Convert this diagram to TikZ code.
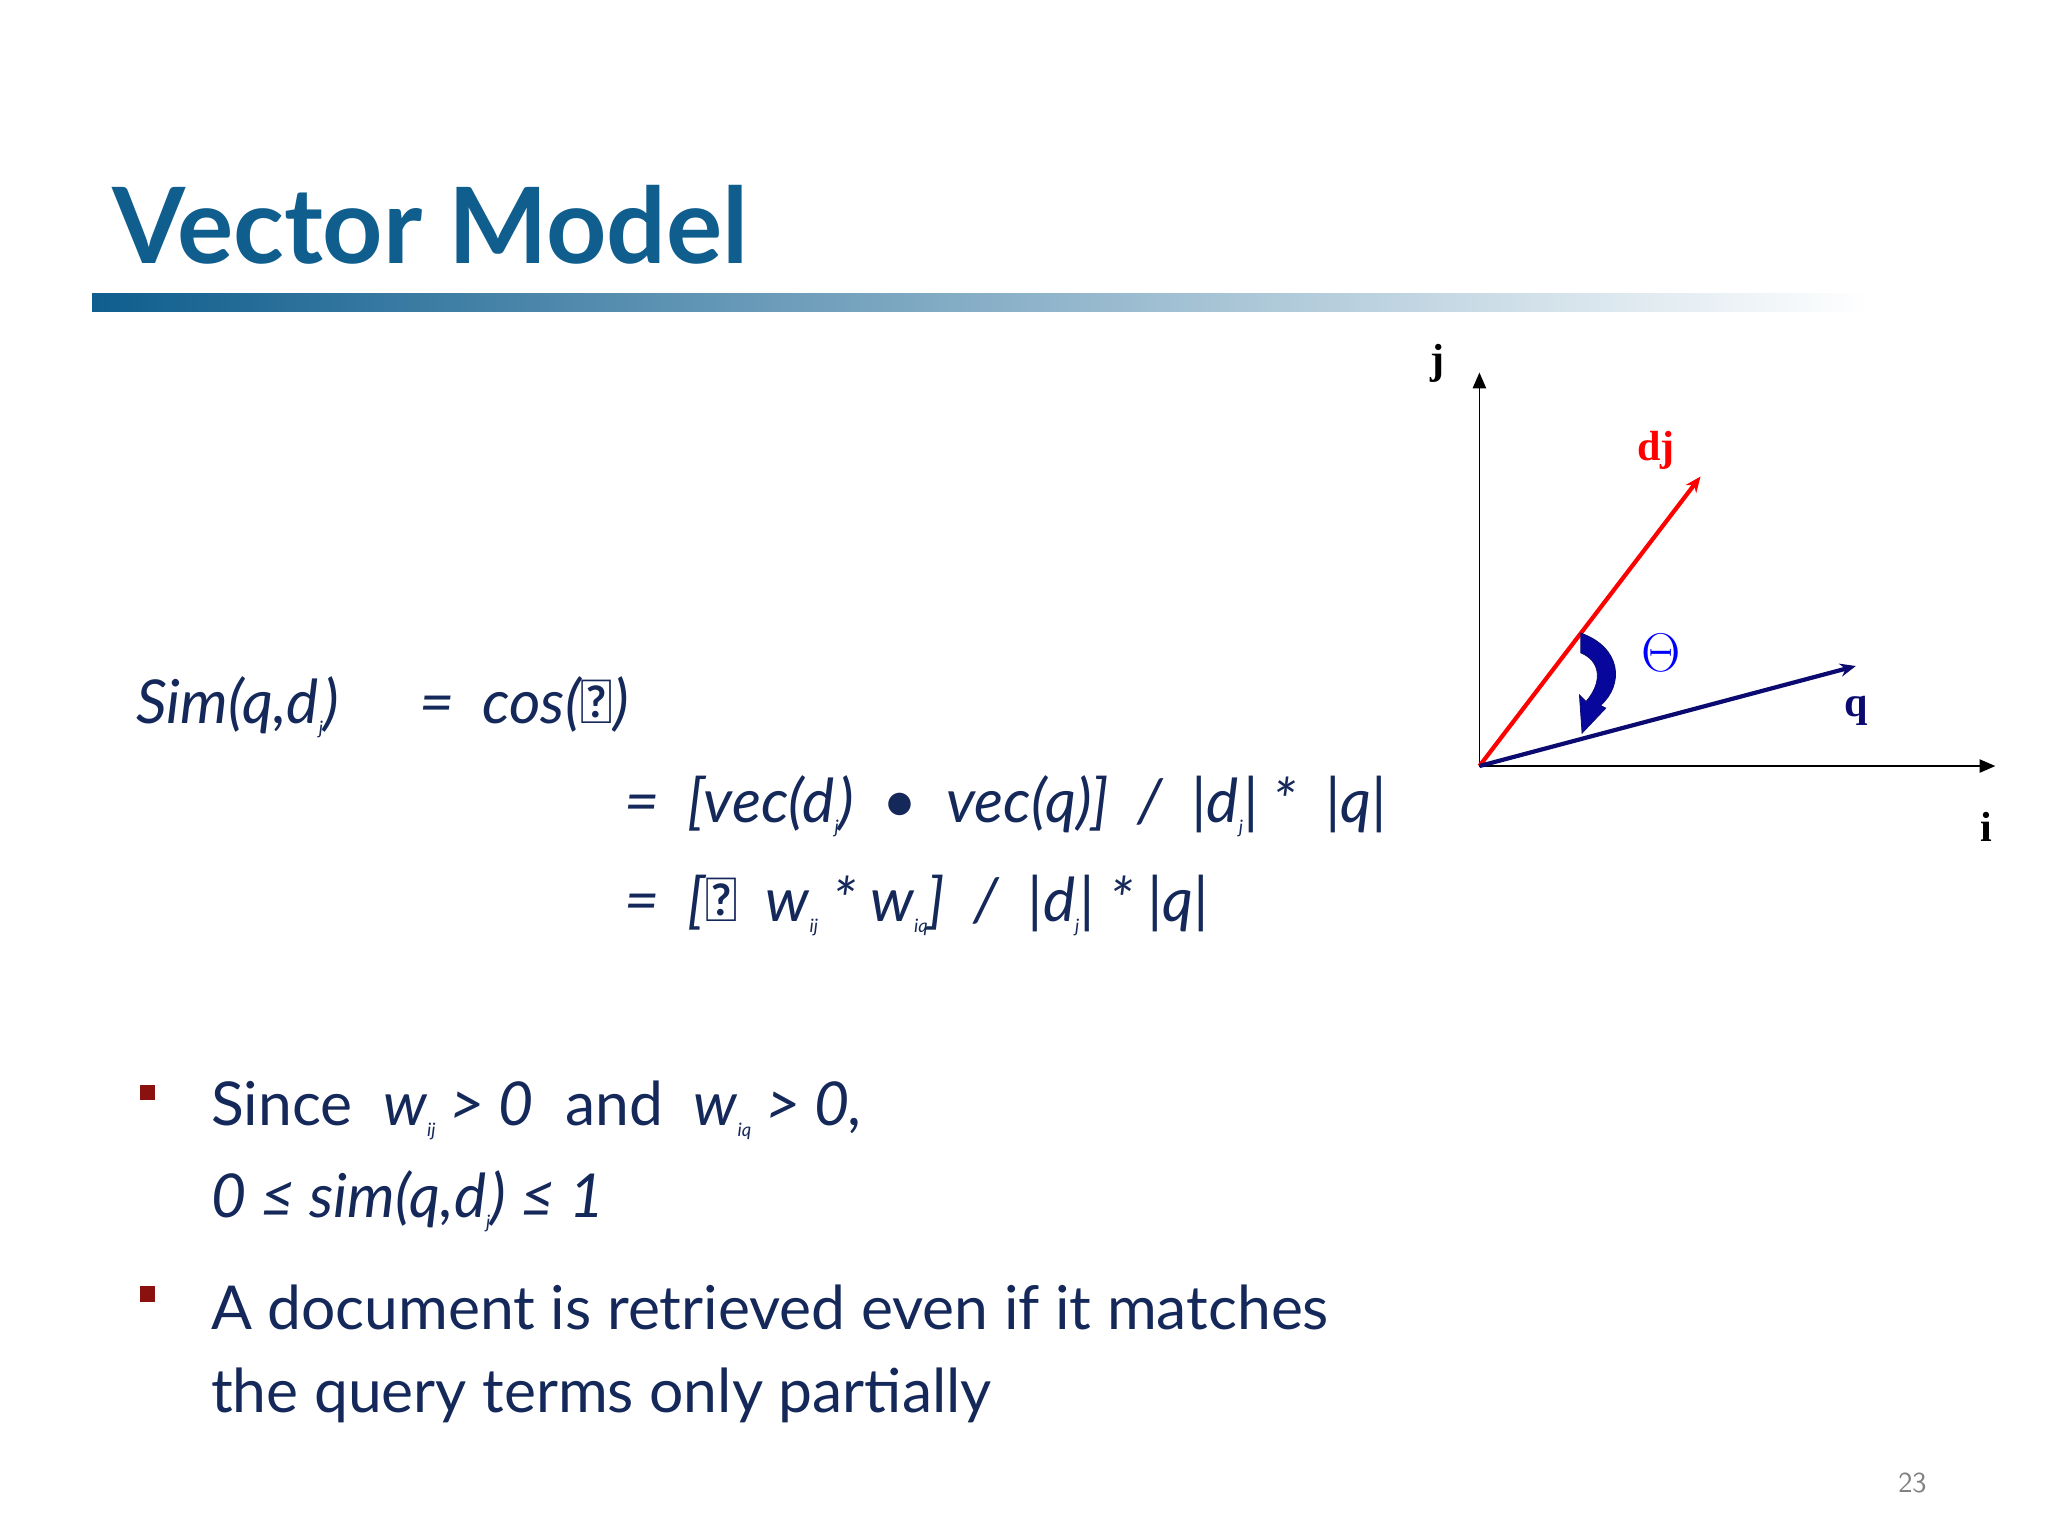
\documentclass[tikz,border=0pt]{standalone}
\usepackage{fontspec}
\setmainfont{Lato}
\newfontfamily\tnr{Liberation Serif}
\usetikzlibrary{arrows.meta}
\definecolor{ttl}{HTML}{0F5E8E}
\definecolor{txt}{HTML}{14285A}
\definecolor{navy}{HTML}{0A0A70}
\definecolor{bul}{HTML}{8B1010}
\newcommand{\sbs}[1]{\raisebox{-0.35ex}{\scriptsize #1}}
\tikzset{
  ftxt/.style={anchor=base west,inner sep=0pt,text=txt,font=\fontsize{23}{28}\selectfont\itshape},
  btxt/.style={anchor=base west,inner sep=0pt,text=txt,font=\fontsize{23}{28}\selectfont},
  lab/.style={font=\tnr\bfseries\fontsize{16}{18}\selectfont,inner sep=0pt},
  bsq/.style={fill=bul,minimum size=6pt,inner sep=0pt}
}
\begin{document}
\begin{tikzpicture}[x=0.5pt,y=-0.5pt]
\useasboundingbox (0,0) rectangle (1556,1167);
\node[anchor=base west,inner sep=0pt,text=ttl,font=\fontsize{40}{44}\selectfont\bfseries] (title) at (85,200) {Vector Model};
\shade[left color=ttl,right color=white] (70,223) rectangle (1420,237);
% axes
\coordinate (o) at (1124,582);
\coordinate (jt) at (1124,283);
\coordinate (it) at (1516,582);
\coordinate (dt) at (1292,362);
\coordinate (qt) at (1410,506);
\draw[-{Triangle[length=6pt,width=5pt]},line width=0.7pt] (o) -- (jt);
\draw[-{Triangle[length=6pt,width=5pt]},line width=0.7pt] (o) -- (it);
\draw[red,line width=1.6pt,-{Stealth[length=6pt,width=5pt]}] (o) -- (dt);
\draw[navy,line width=1.6pt,-{Stealth[length=6pt,width=5pt]}] (o) -- (qt);
\node[lab] (jl) at (1092,276) {j};
\node[lab] (il) at (1509,628) {i};
\node[lab,text=red] (dl) at (1258,342) {dj};
\node[lab,text=navy] (ql) at (1410,540) {q};
\node[text=blue,font=\tnr\bfseries\fontsize{22}{24}\selectfont,inner sep=0pt] (th) at (1262,496) {$\Theta$};
\fill[navy!70!blue,draw=navy,line width=0.3pt] (1201,481) .. controls (1232,492) and (1234,520) .. (1216,536) -- (1220,538) -- (1202,557) -- (1200,528) -- (1205,533) .. controls (1218,518) and (1216,502) .. (1201,496) -- cycle;
% formulas
\node[ftxt] (f1) at (103,550) {Sim(q,d\sbs{j})};
\node[ftxt] (f1b) at (318,550) {=\ \ cos($\mathit\Theta$)};
\node[ftxt] (f2) at (474,625) {=\ \ [vec(d\sbs{j})\ \ \textbullet\ \ vec(q)]\ \ /\ \ |d\sbs{j}|\ *\ \ |q|};
\node[ftxt] (f3) at (474,700) {=\ \ [$\mathit\Sigma$\ \ w\sbs{ij}\ *\ w\sbs{iq}]\ \ /\ \ |d\sbs{j}|\ *\ |q|};
% bullets
\node[bsq] (b1) at (112,830) {};
\node[btxt] (t1) at (160,855) {Since\ \ \textit{w\sbs{ij}\ > 0}\ \ and\ \ \textit{w\sbs{iq}\ > 0,}};
\node[ftxt] (t1b) at (160,925) {0 ≤ sim(q,d\sbs{j}) ≤ 1};
\node[bsq] (b2) at (112,983) {};
\node[btxt] (t2) at (160,1010) {A document is retrieved even if it matches};
\node[btxt] (t2b) at (160,1073) {the query terms only partially};
\node[anchor=base,inner sep=0pt,text=gray,font=\sffamily\fontsize{11}{12}\selectfont] (pg) at (1453,1134) {23};
\end{tikzpicture}
\end{document}
